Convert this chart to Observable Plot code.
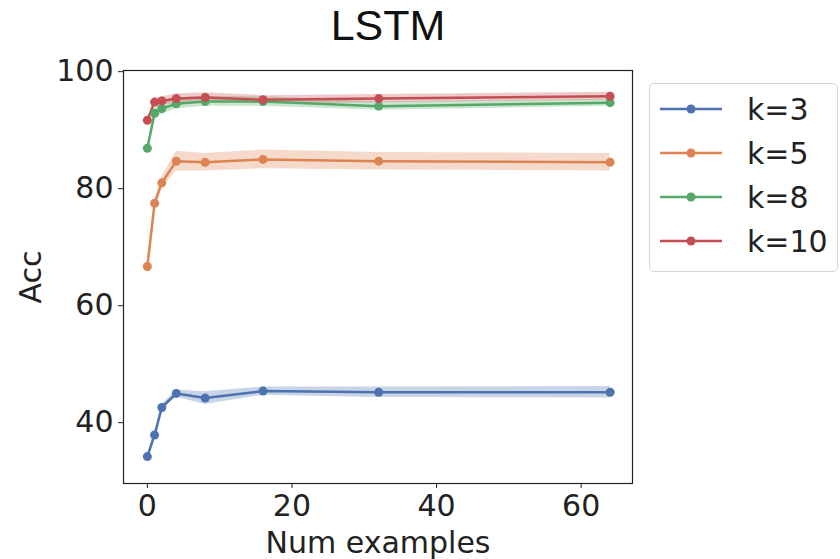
<!DOCTYPE html>
<html>
<head>
<meta charset="utf-8">
<script src="https://cdn.jsdelivr.net/npm/d3@7"></script>
<script src="https://cdn.jsdelivr.net/npm/@observablehq/plot@0.6"></script>
<style>
  html, body { margin: 0; padding: 0; background: #fff; }
  #wrap { position: relative; width: 840px; height: 559px; overflow: hidden; }
  #title { position: absolute; left: 133px; width: 510px; top: -1px; text-align: center;
           font-family: "Liberation Sans", Arial, sans-serif; font-size: 43px; color: #111; line-height: 52px; }
  #chart { position: absolute; left: 0; top: 40px; }
  #chart svg { overflow: visible; }
  #legend { position: absolute; left: 649px; top: 83px; width: 187px; height: 187px;
            border: 1px solid #d6d6d6; border-radius: 5px; background: #fff; }
  .row { position: absolute; left: 0; height: 40px; display: flex; align-items: center; }
  .row span { font-family: "DejaVu Sans", sans-serif; font-size: 30px; color: #222; margin-left: 13px; }
</style>
</head>
<body>
<div id="wrap">
  <div id="title">LSTM</div>
  <div id="chart"></div>
  <div id="legend"></div>
</div>
<script>
const xs = [0, 1, 2, 4, 8, 16, 32, 64];
const seriesNames = ["k=3", "k=5", "k=8", "k=10"];
const k3 = [34.2, 37.9, 42.6, 45.0, 44.2, 45.4, 45.2, 45.2];
const k3err = [0.4, 0.5, 0.5, 0.6, 1.1, 0.7, 0.9, 1.0];
const k5 = [66.7, 77.5, 81.0, 84.7, 84.5, 85.0, 84.7, 84.5];
const k5err = [0.3, 0.6, 1.0, 1.7, 1.5, 1.6, 1.5, 1.5];
const k8 = [86.9, 92.9, 93.7, 94.5, 94.9, 94.9, 94.1, 94.7];
const k8err = [0.2, 0.8, 1.0, 0.9, 0.8, 0.8, 0.7, 0.6];
const k10 = [91.7, 94.8, 95.0, 95.4, 95.6, 95.2, 95.4, 95.8];
const k10err = [0.3, 0.6, 0.7, 0.8, 0.8, 0.7, 0.7, 0.7];
const colors = ["#4c72b0", "#dd8452", "#55a868", "#c44e52"];
const xTicks = [0, 20, 40, 60];
const yTicks = [40, 60, 80, 100];

const allVals = [k3, k5, k8, k10];
const allErr = [k3err, k5err, k8err, k10err];
const data = [];
seriesNames.forEach((name, i) => {
  xs.forEach((x, j) => {
    data.push({series: name, x, y: allVals[i][j], lo: allVals[i][j] - allErr[i][j], hi: allVals[i][j] + allErr[i][j]});
  });
});

const plot = Plot.plot({
  width: 840,
  height: 519,
  marginLeft: 123,
  marginRight: 208,
  marginTop: 30,
  marginBottom: 76,
  style: {fontFamily: "DejaVu Sans, sans-serif", fontSize: "30px", color: "#222", background: "transparent", overflow: "visible"},
  x: {domain: [-3.3, 67.1]},
  y: {domain: [29.6, 100.2]},
  color: {domain: seriesNames, range: colors},
  marks: [
    Plot.areaY(data, {x: "x", y1: "lo", y2: "hi", z: "series", fill: "series", fillOpacity: 0.3}),
    Plot.line(data, {x: "x", y: "y", z: "series", stroke: "series", strokeWidth: 2.5}),
    Plot.dot(data, {x: "x", y: "y", fill: "series", r: 4.5}),
    Plot.frame({stroke: "#222", strokeWidth: 1.2}),
    Plot.axisX({ticks: xTicks, tickSize: 5, tickPadding: 6, fontSize: 30, label: "Num examples", labelAnchor: "center", labelArrow: "none", labelOffset: 69}),
    Plot.axisY({ticks: yTicks, tickSize: 5, tickPadding: 5, fontSize: 30, label: "Acc", labelAnchor: "center", labelArrow: "none", labelOffset: 104})
  ]
});
document.getElementById("chart").appendChild(plot);

const legend = document.getElementById("legend");
const rowTops = [5, 49, 93, 137];
seriesNames.forEach((name, i) => {
  const row = document.createElement("div");
  row.className = "row";
  row.style.top = rowTops[i] + "px";
  row.innerHTML = `<svg width="74" height="12" style="margin-left:10px"><line x1="0" y1="6" x2="62" y2="6" stroke="${colors[i]}" stroke-width="2.5"/><circle cx="31" cy="6" r="4.5" fill="${colors[i]}"/></svg><span>${name}</span>`;
  legend.appendChild(row);
});
</script>
</body>
</html>
